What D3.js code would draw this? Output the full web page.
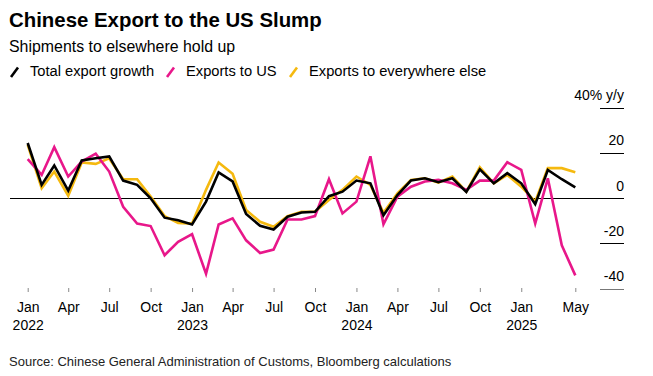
<!DOCTYPE html>
<html>
<head>
<meta charset="utf-8">
<script src="https://cdn.jsdelivr.net/npm/d3@7"></script>
<style>
  body { margin: 0; background: #fff; }
  svg text { font-family: "Liberation Sans", Arial, sans-serif; }
</style>
</head>
<body>
<div id="chart"></div>
<script>
const WIDTH = 653, HEIGHT = 376;
const X_LEFT = 27.7, X_RIGHT = 575.3;
const AXIS_X = 624;

// monthly y/y growth, Jan 2022 .. May 2025
const months = d3.range(41).map(i => new Date(2022, i, 1));
const totalGrowth = [24.3, 5.8, 14.4, 3.3, 16.6, 17.6, 18.4, 7.7, 5.8, -0.1, -8.7, -9.8,
  -11.7, -1.6, 11.3, 7.3, -7.1, -12.3, -13.9, -8.3, -6.4, -6.1, 0.8, 2.8,
  7.7, 6.5, -7.6, 1.3, 7.7, 8.7, 7.0, 8.7, 2.7, 12.7, 6.5, 11.0,
  6.5, -2.7, 12.4, 8.3, 4.7];
const usGrowth = [17.2, 10.2, 22.5, 9.5, 16.1, 19.6, 11.7, -3.9, -11.3, -12.4, -25.3, -19.4,
  -16.0, -33.5, -11.7, -9.0, -18.7, -24.3, -22.8, -9.5, -9.5, -8.0, 8.3, -6.8,
  -1.6, 18.4, -11.6, 0.6, 5.0, 7.3, 8.0, 6.5, 3.6, 7.7, 7.7, 15.8,
  12.4, -11.3, 8.7, -20.9, -34.2];
const elsewhereGrowth = [23.5, 4.3, 11.7, 1.0, 15.7, 15.1, 17.5, 8.3, 8.3, 0.6, -8.0, -11.0,
  -11.3, 3.6, 15.7, 10.7, -5.3, -10.5, -12.7, -8.0, -6.1, -6.1, -0.9, 3.6,
  9.5, 5.8, -6.5, 2.1, 8.0, 8.7, 6.8, 9.5, 2.8, 13.6, 6.5, 10.2,
  5.0, -1.6, 13.2, 13.2, 11.4];

const seriesNames = ["Total export growth", "Exports to US", "Exports to everywhere else"];
const seriesColors = ["#000000", "#e8178a", "#f5b90f"];

const yTicks = [40, 20, 0, -20, -40];
const xTickDates = [new Date(2022, 0, 1), new Date(2022, 3, 1), new Date(2022, 6, 1), new Date(2022, 9, 1),
  new Date(2023, 0, 1), new Date(2023, 3, 1), new Date(2023, 6, 1), new Date(2023, 9, 1),
  new Date(2024, 0, 1), new Date(2024, 3, 1), new Date(2024, 6, 1), new Date(2024, 9, 1),
  new Date(2025, 0, 1), new Date(2025, 4, 1)];
const xTickMonths = ["Jan", "Apr", "Jul", "Oct", "Jan", "Apr", "Jul", "Oct", "Jan", "Apr", "Jul", "Oct", "Jan", "May"];
const xTickYears = ["2022", "", "", "", "2023", "", "", "", "2024", "", "", "", "2025", ""];

const svg = d3.select("#chart").append("svg")
  .attr("width", WIDTH)
  .attr("height", HEIGHT);

// titles
svg.append("text").attr("x", 9).attr("y", 27)
  .style("font-size", "20.4px").style("font-weight", "bold").attr("fill", "#000")
  .text("Chinese Export to the US Slump");
svg.append("text").attr("x", 9).attr("y", 52)
  .style("font-size", "15.9px").attr("fill", "#000")
  .text("Shipments to elsewhere hold up");

// legend
const legendX = [11, 167, 290];
const legend = svg.selectAll("g.legend").data(seriesNames).join("g")
  .attr("class", "legend")
  .attr("transform", (d, i) => `translate(${legendX[i]},0)`);
legend.append("line")
  .attr("x1", 0).attr("y1", 77).attr("x2", 7).attr("y2", 67.5)
  .attr("stroke", (d, i) => seriesColors[i]).attr("stroke-width", 2.6);
legend.append("text").attr("x", 19).attr("y", 76)
  .style("font-size", "14.7px").attr("fill", "#000")
  .text(d => d);

const x = d3.scaleTime()
  .domain([months[0], months[months.length - 1]])
  .range([X_LEFT, X_RIGHT]);
const y = d3.scaleLinear()
  .domain([-40, 40])
  .range([288.5, 107.5]);

// y axis on the right
const yAxis = svg.append("g")
  .attr("transform", `translate(${AXIS_X},0)`)
  .call(d3.axisLeft(y).tickValues(yTicks).tickSize(24)
    .tickFormat(d => d === 40 ? "40% y/y" : d));
yAxis.select(".domain").remove();
yAxis.selectAll(".tick line")
  .attr("stroke", (d) => d === -40 ? "#777" : "#000").attr("stroke-width", 1)
  .attr("shape-rendering", "crispEdges");
yAxis.selectAll(".tick text")
  .attr("x", 0).attr("dy", -8)
  .attr("text-anchor", "end")
  .style("font-size", "14px").attr("fill", "#000")
  .style("font-family", "'Liberation Sans', Arial, sans-serif");

// zero line
svg.append("line")
  .attr("x1", 10).attr("x2", AXIS_X)
  .attr("y1", y(0) + 0.5).attr("y2", y(0) + 0.5)
  .attr("stroke", "#000").attr("stroke-width", 1)
  .attr("shape-rendering", "crispEdges");

// x axis
const xAxis = svg.append("g")
  .attr("transform", "translate(0,288)")
  .call(d3.axisBottom(x).tickValues(xTickDates).tickSize(4).tickFormat(""));
xAxis.select(".domain").remove();
xAxis.selectAll(".tick line").attr("stroke", "#888").attr("stroke-width", 1);
xAxis.selectAll(".tick").append("text")
  .attr("y", 24).attr("text-anchor", "middle")
  .style("font-size", "14px").attr("fill", "#000")
  .text((d, i) => xTickMonths[i]);
xAxis.selectAll(".tick").append("text")
  .attr("y", 42).attr("text-anchor", "middle")
  .style("font-size", "14px").attr("fill", "#000")
  .text((d, i) => xTickYears[i]);

// lines
const lineGen = d3.line()
  .x((d, i) => x(months[i]))
  .y(d => y(d));
[[elsewhereGrowth, seriesColors[2]], [usGrowth, seriesColors[1]], [totalGrowth, seriesColors[0]]]
  .forEach(([vals, color]) => {
    svg.append("path")
      .datum(vals)
      .attr("d", lineGen)
      .attr("fill", "none")
      .attr("stroke", color)
      .attr("stroke-width", 2.6)
      .attr("stroke-linejoin", "miter");
  });

// source
svg.append("text").attr("x", 9).attr("y", 366)
  .style("font-size", "13px").attr("fill", "#222")
  .text("Source: Chinese General Administration of Customs, Bloomberg calculations");
</script>
</body>
</html>
